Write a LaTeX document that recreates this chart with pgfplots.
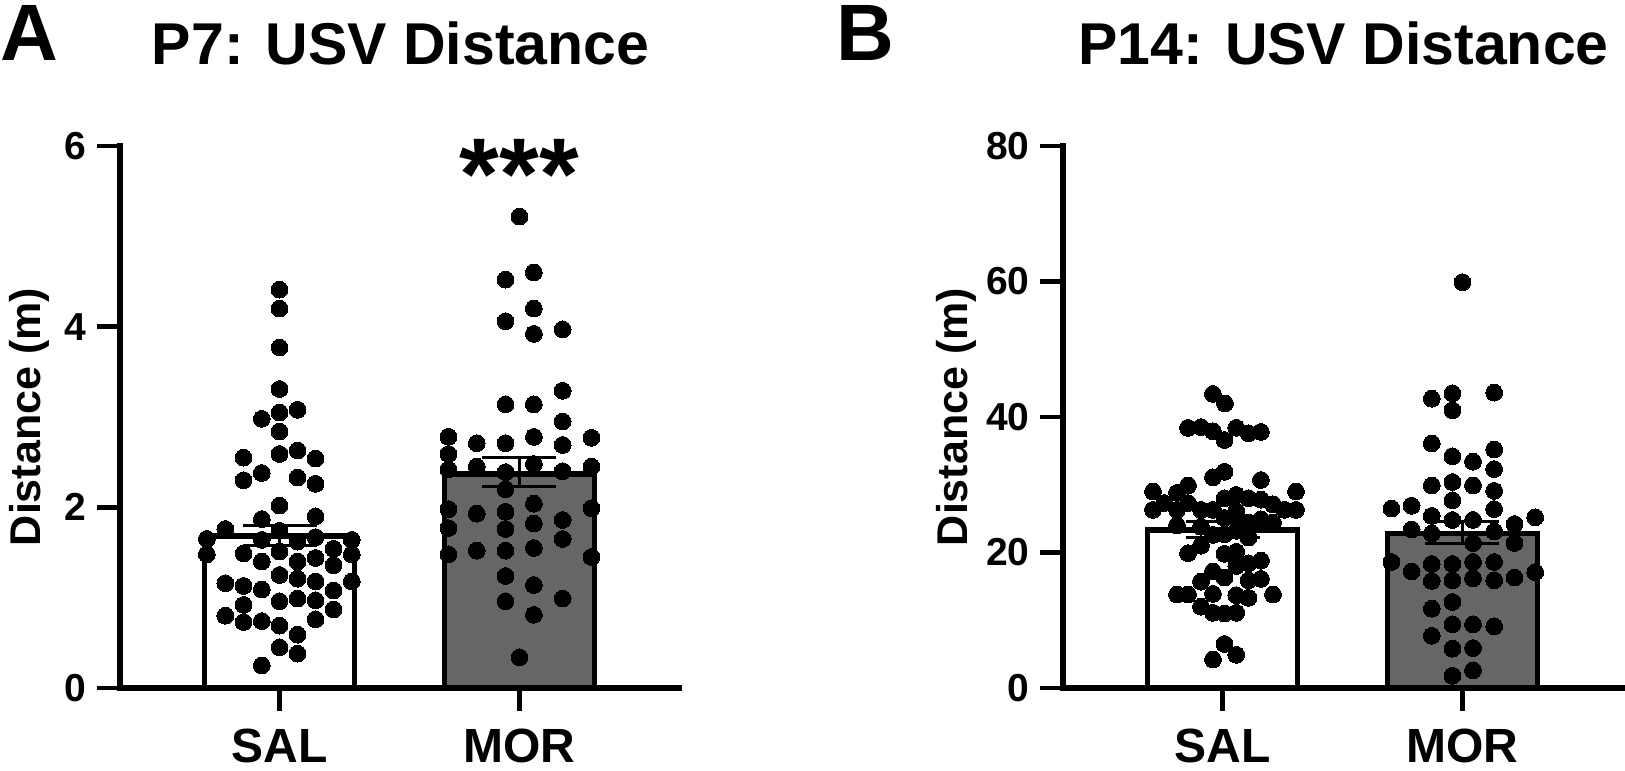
\documentclass[border=0pt]{standalone}
\usepackage{fontspec}
\setmainfont{Liberation Sans}
\usepackage{pgfplots}
\pgfplotsset{compat=1.18}
\definecolor{morgray}{RGB}{102,102,102}
\pgfplotsset{
  panel/.style={
    scale only axis, width=279.5pt, height=271pt,
    xmin=-0.665, xmax=1.665, ymin=0,
    axis x line*=bottom, axis y line*=left,
    axis line style={line width=2.6pt, line cap=rect, black},
    tick style={line width=2.4pt, black},
    tick align=outside, major tick length=11.5pt,
    xtick={0,1}, xticklabels={SAL,MOR},
    xticklabel style={font=\bfseries\fontsize{24}{24}\selectfont, inner sep=0pt, anchor=north, yshift=-9pt},
    yticklabel style={font=\bfseries\fontsize{19.5}{19.5}\selectfont, inner sep=0pt, anchor=east, xshift=-5pt},
    /pgf/number format/assume math mode=true,
    clip=false,
    title style={at={(axis description cs:0.502,1.128)}, anchor=base, font=\bfseries\fontsize{29.5}{29.5}\selectfont},
    ylabel={Distance (m)},
    ylabel style={anchor=base, font=\bfseries\fontsize{21.5}{21.5}\selectfont},
  },
  dots/.style={only marks, mark=*, mark size=4.2pt, mark options={fill=black, draw=black, line width=0pt}},
  bars/.style={ybar, bar width=75pt, bar shift=0pt, draw=black, line width=2.8pt},
  errs/.style={mark=none, draw=none, forget plot, error bars/.cd, y dir=both, y explicit,
    error bar style={draw=black, solid, line width=1.4pt},
    error mark options={rotate=90, draw=black, line width=1.4pt, mark size=18.5pt}},
}
\begin{document}
\begin{tikzpicture}
\useasboundingbox (0,0) rectangle (812.5pt,385pt);
\node[anchor=base west, inner sep=0pt, font=\bfseries\fontsize{40}{40}\selectfont] at (0pt,354.5pt) {A};
\node[anchor=base west, inner sep=0pt, font=\bfseries\fontsize{40}{40}\selectfont] at (418pt,354.5pt) {B};
% Panel A
\begin{axis}[panel, at={(60pt,41pt)}, anchor=south west,
  ymax=6, ytick={0,2,4,6},
  title={P7: USV Distance},
  ylabel style={at={(axis description cs:-0.143,0.5)}}]
\addplot[bars, fill=white] coordinates {(0,1.68)};
\addplot[bars, fill=morgray] coordinates {(1,2.37)};
\addplot[dots] coordinates {
(0,4.41)(0,4.20)(0,3.77)(0,3.31)
(-0.074,2.98)(0,3.05)(0.075,3.08)(0,2.84)
(-0.15,2.55)(0,2.59)(0.075,2.63)(0.15,2.54)
(-0.074,2.38)(-0.15,2.30)(0.075,2.33)(0.15,2.26)
(0,2.02)(-0.074,1.87)(0.15,1.90)(-0.226,1.76)(0,1.74)
(-0.303,1.65)(-0.074,1.64)(0.075,1.62)(0.15,1.67)(0.301,1.64)
(-0.303,1.48)(-0.15,1.49)(0,1.51)(0.225,1.54)(0.301,1.48)
(-0.074,1.40)(0.075,1.40)(0.15,1.44)(0.225,1.36)
(0,1.25)(0.075,1.21)(0.15,1.18)(0.301,1.18)
(-0.226,1.16)(-0.15,1.13)(-0.074,1.09)(0.225,1.08)
(0,0.96)(0.075,0.99)(0.15,0.97)(-0.15,0.92)(0.225,0.87)
(-0.226,0.80)(-0.15,0.73)(-0.074,0.74)(0.15,0.76)
(0,0.69)(0.075,0.59)(0,0.45)(0.075,0.38)(-0.074,0.25)
};
\addplot[dots] coordinates {
(1,5.22)(0.942,4.52)(1.06,4.60)
(0.942,4.06)(1.06,4.20)(1.06,3.92)(1.18,3.97)
(1.18,3.29)(0.942,3.14)(1.06,3.14)(1.18,2.95)
(0.704,2.78)(1.30,2.77)(1.06,2.78)
(0.822,2.71)(0.942,2.71)(1.18,2.69)(0.704,2.59)
(0.704,2.42)(0.822,2.45)(0.942,2.39)(1.06,2.48)(1.18,2.40)(1.30,2.45)
(0.942,2.20)(1.06,2.04)(0.704,1.98)(1.30,1.99)
(0.822,1.93)(0.942,1.95)(1.06,1.82)(1.18,1.86)
(0.704,1.77)(0.942,1.76)(1.18,1.65)(1.06,1.55)
(0.704,1.48)(0.822,1.52)(0.942,1.52)(1.30,1.45)
(0.942,1.24)(1.06,1.14)(0.942,0.96)(1.18,0.99)
(1.06,0.81)(1,0.34)
};
\addplot[errs] coordinates {(0,1.69) +- (0,0.11) (1,2.39) +- (0,0.16)};
\node[anchor=base, inner sep=0pt, font=\bfseries\fontsize{51}{51}\selectfont] at (axis cs:1,5.30) {***};
\end{axis}
% Panel B
\begin{axis}[panel, at={(531.5pt,41pt)}, anchor=south west,
  ymax=80, ytick={0,20,40,60,80},
  title={P14: USV Distance},
  ylabel style={at={(axis description cs:-0.171,0.5)}}]
\addplot[bars, fill=white] coordinates {(0,23.3)};
\addplot[bars, fill=morgray] coordinates {(1,22.8)};
\addplot[dots] coordinates {
(-0.04,43.4)(0.01,42.0)
(-0.144,38.4)(-0.09,38.5)(-0.04,37.9)(0.008,36.6)(0.057,38.4)(0.108,37.6)(0.16,37.8)
(0.008,31.9)(-0.04,31.1)(0.16,30.7)(-0.144,29.9)
(-0.29,29.0)(-0.19,28.8)(0.306,29.0)
(0.057,28.5)(0.108,28.0)(0.008,28.0)(0.16,27.8)(0.21,27.1)
(-0.243,27.3)(-0.144,27.3)
(-0.29,26.3)(-0.19,26.3)(-0.09,26.3)(-0.04,26.3)(0.258,26.3)(0.306,26.3)
(0.057,26.1)(0.008,25.1)
(0.108,24.4)(0.16,24.9)(0.21,24.4)
(-0.19,24.0)(-0.09,23.8)
(0.057,23.2)(0.008,22.7)(-0.04,22.6)(0.108,22.2)
(-0.09,21.0)(-0.144,19.9)(0.008,19.8)(0.057,20.1)
(0.16,18.8)(0.108,18.4)(0.057,18.0)
(-0.04,17.2)(0.008,16.3)(0.16,16.1)(0.108,15.9)(-0.09,15.7)
(-0.19,13.8)(-0.144,13.8)(-0.04,13.9)(0.057,13.7)(0.108,13.3)(0.21,13.8)
(-0.09,12.0)(-0.04,11.1)(0.008,11.0)(0.057,11.1)
(0.008,6.5)(0.057,4.9)(-0.04,4.2)
};
\addplot[dots] coordinates {
(1,59.9)
(0.872,42.7)(0.958,43.5)(0.958,41.0)(1.132,43.6)
(0.872,36.1)(1.132,35.2)
(0.958,34.2)(1.044,33.4)(1.132,32.3)
(0.872,29.9)(0.958,30.4)(1.044,29.9)(1.132,29.1)
(0.958,27.7)
(0.704,26.5)(0.788,26.9)(1.132,26.4)(1.303,25.2)
(0.872,25.4)(0.958,24.8)(1.044,24.8)(1.217,24.2)
(0.788,23.4)(0.872,22.8)(1.132,23.1)
(1.044,21.4)(1.217,21.4)
(0.704,18.6)(0.872,18.3)(0.958,18.3)(1.044,18.6)(1.132,18.6)
(0.788,17.2)(0.872,15.8)(0.958,15.9)(1.044,16.2)(1.132,15.9)(1.217,16.3)(1.303,17.1)
(0.958,12.7)(0.872,11.7)
(0.958,9.4)(1.044,9.4)(1.132,9.1)
(0.872,7.7)
(0.958,5.8)(1.044,5.9)
(0.958,1.8)(1.044,2.6)
};
\addplot[errs] coordinates {(0,23.4) +- (0,1.2) (1,22.95) +- (0,1.65)};
\end{axis}
\end{tikzpicture}
\end{document}
